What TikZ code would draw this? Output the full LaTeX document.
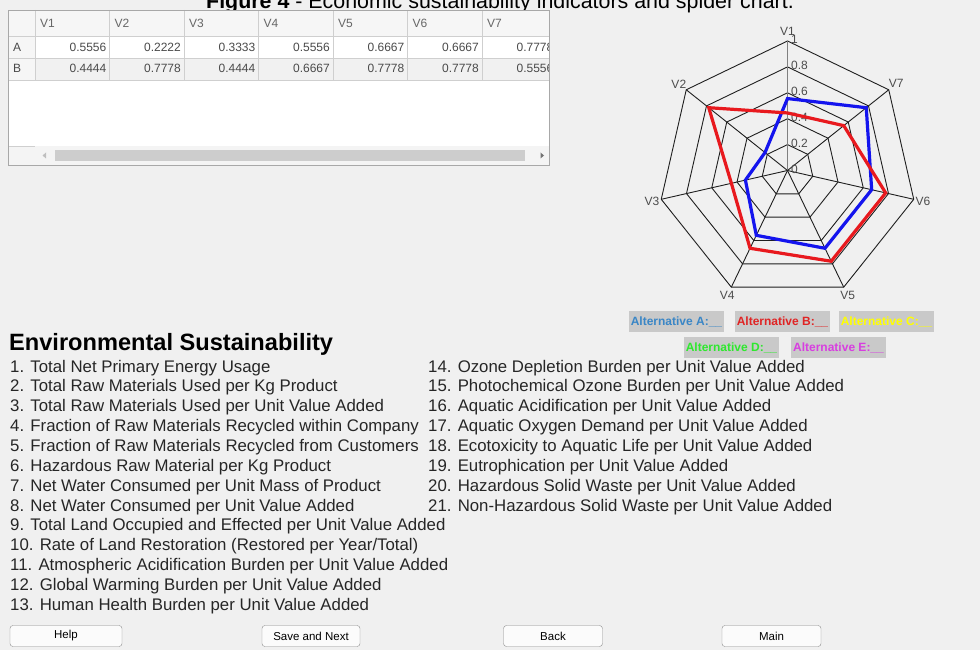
\documentclass[tikz,border=0pt]{standalone}
\usepackage{fontspec}
\setmainfont{Liberation Sans}
\usetikzlibrary{calc}
\definecolor{guibg}{HTML}{F0F0F0}
\definecolor{hdfill}{HTML}{F6F6F6}
\definecolor{rowb}{HTML}{F1F1F1}
\definecolor{cellline}{HTML}{CFCFCF}
\definecolor{tblborder}{HTML}{A8A8A8}
\definecolor{celltext}{HTML}{4A4A4A}
\definecolor{thumbgray}{HTML}{CDCDCD}
\definecolor{sbfill}{HTML}{F4F4F4}
\definecolor{legendgray}{HTML}{C9C9C9}
\definecolor{btnfill}{HTML}{FBFBFB}
\definecolor{btnborder}{HTML}{8C8C8C}
\definecolor{altblue}{HTML}{1414EE}
\definecolor{altred}{HTML}{E8191E}
\definecolor{legA}{HTML}{3A86C6}
\definecolor{legB}{HTML}{E02424}
\definecolor{legC}{HTML}{FFFF00}
\definecolor{legD}{HTML}{2EE82E}
\definecolor{legE}{HTML}{D83EE0}
\tikzstyle{cell}=[inner sep=0pt, text=celltext, font=\fontsize{12}{14}\selectfont]
\tikzstyle{item}=[anchor=base west, inner sep=0pt, text=black!85, font=\fontsize{16.8}{20}\selectfont]
\tikzstyle{legend}=[fill=legendgray, minimum width=95pt, minimum height=21pt, inner sep=0pt, font=\fontsize{12}{14}\bfseries\selectfont]
\tikzstyle{button}=[draw=btnborder, fill=btnfill, rounded corners=3pt, minimum height=21pt, inner sep=0pt, font=\fontsize{11.5}{14}\selectfont]
\tikzstyle{web}=[draw=black!88, line width=0.9pt]
\tikzstyle{axislabel}=[inner sep=0pt, text=black!70, font=\fontsize{12}{14}\selectfont]

\begin{document}
\begin{tikzpicture}[x=1pt, y=-1pt]

\fill[guibg] (0,0) rectangle (980,650);
\useasboundingbox (0,0) rectangle (980,650);

% caption, cut by the top edge
\node[anchor=base, inner sep=0pt, font=\fontsize{21.4}{24}\selectfont] (caption) at (500,9)
  {\textbf{Figure 4} - Economic sustainability indicators and spider chart.};

% table
\begin{scope}
\clip (8,10) rectangle (549,165);
\fill[white] (8,10) rectangle (549,146);
\fill[hdfill] (8,10) rectangle (549,36.5);
\fill[hdfill] (8,36.5) rectangle (35,80);
\fill[rowb] (35,58) rectangle (549,80);
\foreach \y in {36.5,58,80}
  \draw[cellline] (8,\y) -- (549,\y);
\foreach \k in {0,...,7}
  \draw[cellline] (35+74.5*\k,10) -- (35+74.5*\k,80);

\foreach \k in {1,...,7}
  \node[cell, anchor=base west, text=black!60] (hd-\k) at ({35+74.5*(\k-1)+5},27.5) {V\k};

\node[cell, anchor=base west] (row-A) at (13,51.5) {A};
\node[cell, anchor=base west] (row-B) at (13,73) {B};

\foreach \v [count=\k] in {0.5556,0.2222,0.3333,0.5556,0.6667,0.6667,0.7778}
  \node[cell, anchor=base east] (valA-\k) at ({35+74.5*\k-3},51.5) {\v};
\foreach \v [count=\k] in {0.4444,0.7778,0.4444,0.6667,0.7778,0.7778,0.5556}
  \node[cell, anchor=base east] (valB-\k) at ({35+74.5*\k-3},73) {\v};

% scroll bar
\fill[sbfill] (8,146) rectangle (549,165);
\draw[cellline] (8,146) -- (35,146);
\fill[thumbgray] (55,150) rectangle (525,161);
\fill[black!25] (46,152.5) -- (46,158.5) -- (42.5,155.5) -- cycle;
\fill[black!55] (540.5,152.5) -- (540.5,158.5) -- (544,155.5) -- cycle;
\end{scope}
\draw[tblborder] (8,10) rectangle (549,165);

% spider chart
\begin{scope}[shift={(787.5,170.5)}]
\foreach \i in {1,...,7}
  \coordinate (v-\i) at ({-90-(\i-1)*360/7}:129.5);

\foreach \k in {1,...,5}
  \draw[web] (-90:{\k*25.9}) \foreach \i in {1,...,6} {-- ({-90-\i*360/7}:{\k*25.9})} -- cycle;
\foreach \i in {2,...,7}
  \draw[web] (0,0) -- (v-\i);
\draw[black!50, line width=1.3pt] (0,0) -- (v-1);

\foreach \i in {1,...,7}
  \node[axislabel] (lab-\i) at ({-90-(\i-1)*360/7}:139) {V\i};
\foreach \t [count=\k from 0] in {0,0.2,0.4,0.6,0.8,1}
  \node[axislabel, anchor=west] (tick-\k) at (3.5,{-\k*25.9-1.5}) {\t};

\foreach \v [count=\i] in {0.5556,0.2222,0.3333,0.5556,0.6667,0.6667,0.7778}
  \coordinate (a-\i) at ({-90-(\i-1)*360/7}:{\v*129.5});
\foreach \v [count=\i] in {0.4444,0.7778,0.4444,0.6667,0.7778,0.7778,0.5556}
  \coordinate (b-\i) at ({-90-(\i-1)*360/7}:{\v*129.5});

\draw[altblue, line width=3.2pt] (a-1) \foreach \i in {2,...,7} {-- (a-\i)} -- cycle;
\draw[altred, line width=3.2pt] (b-1) \foreach \i in {2,...,7} {-- (b-\i)} -- cycle;
\end{scope}

% legend
\node[legend, text=legA] (leg-A) at (676.5,321.5) {Alternative A:\_\_};
\node[legend, text=legB] (leg-B) at (782.5,321.5) {Alternative B:\_\_};
\node[legend, text=legC] (leg-C) at (886.5,321.5) {Alternative C:\_\_};
\node[legend, text=legD] (leg-D) at (731.5,347.5) {Alternative D:\_\_};
\node[legend, text=legE] (leg-E) at (838.5,347.5) {Alternative E:\_\_};

% indicator list
\node[anchor=base west, inner sep=0pt, font=\fontsize{23.6}{26}\bfseries\selectfont] (heading) at (9,350)
  {Environmental Sustainability};

\foreach \t [count=\i] in {Total Net Primary Energy Usage,
    Total Raw Materials Used per Kg Product,
    Total Raw Materials Used per Unit Value Added,
    Fraction of Raw Materials Recycled within Company,
    Fraction of Raw Materials Recycled from Customers,
    Hazardous Raw Material per Kg Product,
    Net Water Consumed per Unit Mass of Product,
    Net Water Consumed per Unit Value Added,
    Total Land Occupied and Effected per Unit Value Added,
    Rate of Land Restoration (Restored per Year/Total),
    Atmospheric Acidification Burden per Unit Value Added,
    Global Warming Burden per Unit Value Added,
    Human Health Burden per Unit Value Added}
  \node[item] (item-\i) at (10,{372+19.86*(\i-1)}) {\i. \t};

\foreach \t [count=\i from 14] in {Ozone Depletion Burden per Unit Value Added,
    Photochemical Ozone Burden per Unit Value Added,
    Aquatic Acidification per Unit Value Added,
    Aquatic Oxygen Demand per Unit Value Added,
    Ecotoxicity to Aquatic Life per Unit Value Added,
    Eutrophication per Unit Value Added,
    Hazardous Solid Waste per Unit Value Added,
    Non-Hazardous Solid Waste per Unit Value Added}
  \node[item] (item-\i) at (428,{372+19.86*(\i-14)}) {\i. \t};

% buttons
\node[button, minimum width=112pt] (help) at (66,636) {Help};
\node[button, minimum width=98pt] (save) at (311,636) {Save and Next};
\node[button, minimum width=99pt] (back) at (553,636) {Back};
\node[button, minimum width=99pt] (main) at (771.5,636) {Main};

\end{tikzpicture}
\end{document}
